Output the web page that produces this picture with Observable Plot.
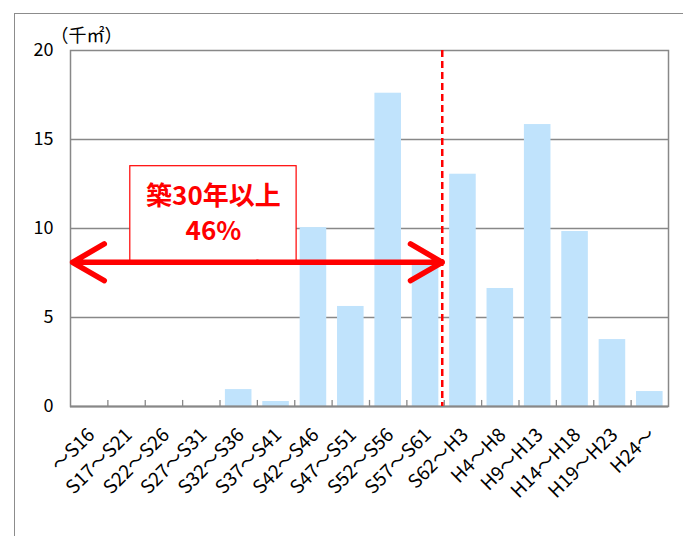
<!DOCTYPE html>
<html><head><meta charset="utf-8">
<script src="https://cdn.jsdelivr.net/npm/d3@7"></script>
<script src="https://cdn.jsdelivr.net/npm/@observablehq/plot@0.6"></script>
<style>
body{margin:0;background:#fff;}
#wrap{position:relative;width:683px;height:536px;overflow:hidden;background:#fff;}
#outer{position:absolute;left:14px;top:13px;width:700px;height:600px;border-left:1.5px solid #8c8c8c;border-top:1.5px solid #8c8c8c;pointer-events:none;}
#wrap svg{position:absolute;left:0;top:0;}
</style></head><body><div id="wrap"><div id="outer"></div></div>
<script>
const categories = ["～S16","S17～S21","S22～S26","S27～S31","S32～S36","S37～S41","S42～S46","S47～S51","S52～S56","S57～S61","S62～H3","H4～H8","H9～H13","H14～H18","H19～H23","H24～"];
const values = [0, 0, 0, 0, 0.95, 0.28, 10.05, 5.62, 17.6, 8.2, 13.05, 6.63, 15.84, 9.83, 3.76, 0.84];
const yTicks = [0, 5, 10, 15, 20];
const unitLabel = "（千㎡）";
const annotationLines = "築30年以上\n46%";
const over30Count = 10;      // categories built 30+ years ago
const arrowLevel = 8.1;      // y level of the double arrow
const boxSpan = [1.6, 6.05]; // annotation box extent in category units
const boxTop = 13.5;

const FONT = "'Noto Sans CJK JP', 'Noto Sans', sans-serif";
const data = categories.map((c, i) => ({c, i, v: values[i]}));
const bounds = d3.range(1, categories.length);

const plot = Plot.plot({
  width: 683, height: 536,
  marginLeft: 70, marginRight: 15, marginTop: 50, marginBottom: 130,
  style: {fontFamily: FONT, fontSize: "17px", background: "transparent", color: "#000"},
  x: {domain: [0, categories.length], axis: null},
  y: {domain: [0, 20], axis: null},
  marks: [
    Plot.ruleY(yTicks.slice(1, -1), {stroke: "#888", strokeWidth: 1.3}),
    Plot.rectY(data, {x1: "i", x2: d => d.i + 1, y: "v", insetLeft: 5.4, insetRight: 5.4, fill: "#c0e3fc"}),
    Plot.ruleX(bounds, {x: d => d, y1: 0, y2: 0.34, stroke: "#888", strokeWidth: 1.3}),
    Plot.frame({stroke: "#888", strokeWidth: 1.5}),
    Plot.ruleY([0], {stroke: "#888", strokeWidth: 2.2}),
    Plot.text(yTicks, {y: d => d, frameAnchor: "left", dx: -17, textAnchor: "end", text: d => String(d), fontSize: 18, fontFamily: FONT, fill: "#000"}),
    Plot.text(data, {x: d => d.i + 0.5, y: 0, text: "c", rotate: -45, textAnchor: "end", lineAnchor: "top", dx: -3, dy: 20, fontSize: 19, fontFamily: FONT, fill: "#000"}),
    Plot.ruleX([over30Count], {x: d => d, dx: -2, stroke: "#f00", strokeWidth: 2.5, strokeDasharray: "7,4"}),
    Plot.rect([0], {x1: () => boxSpan[0], x2: () => boxSpan[1], y1: () => arrowLevel, y2: () => boxTop, fill: "#fff", stroke: "#f00", strokeWidth: 1.2}),
    Plot.text([annotationLines], {x: () => (boxSpan[0] + boxSpan[1]) / 2, y: () => (arrowLevel + boxTop) / 2 + 0.15, text: d => d, fill: "#f00", fontWeight: "bold", fontSize: 26, lineHeight: 1.35, fontFamily: FONT}),
    Plot.arrow([0, over30Count], {x1: () => over30Count / 2, x2: d => d, y1: () => arrowLevel, y2: () => arrowLevel, stroke: "#f00", strokeWidth: 5.5, headLength: 10, headAngle: 60, insetEnd: 2, strokeLinecap: "round"}),
    Plot.text([unitLabel], {frameAnchor: "top-left", dx: -20, dy: -21, textAnchor: "start", fontSize: 18, fontFamily: FONT, fill: "#000"})
  ]
});
document.getElementById("wrap").appendChild(plot);
</script></body></html>
